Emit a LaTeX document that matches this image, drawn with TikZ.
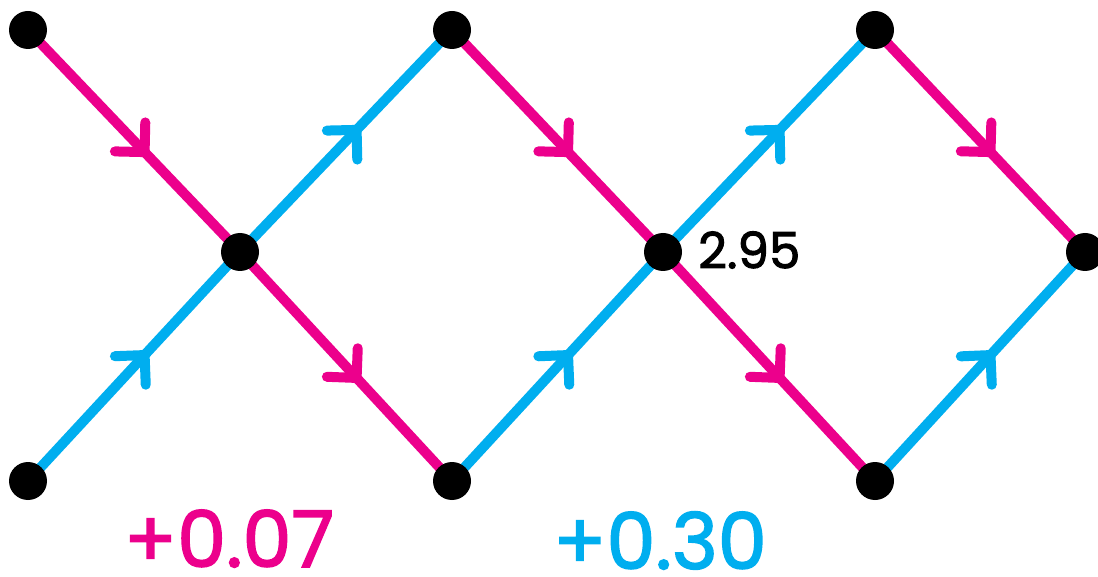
\documentclass[tikz,border=0pt]{standalone}
\usepackage{fontspec}
\setmainfont{Poppins}
\newfontfamily\heavyf{Poppins}[FakeBold=2]
\usetikzlibrary{decorations.markings}
\definecolor{mag}{RGB}{236,0,140}
\definecolor{cya}{RGB}{0,174,239}
\tikzset{
  dot/.style={circle,fill=black,inner sep=0pt,minimum size=38pt},
  edge/.style={line width=10pt,
    postaction={decorate,decoration={markings,mark=at position 0.55 with {
      \draw[line width=10pt,line cap=round,color=#1] (-21pt,21pt) -- (0,0) -- (-21pt,-21pt);}}},
    draw=#1},
  big/.style={font=\heavyf\fontsize{78}{86}\selectfont,inner sep=0pt,anchor=base},
}
\begin{document}
\begin{tikzpicture}[x=1pt,y=-1pt]
\useasboundingbox (0,0) rectangle (1098,577);
\coordinate (A) at (28,30);
\coordinate (B) at (240,252);
\coordinate (C) at (28,481);
\coordinate (D) at (452,30);
\coordinate (E) at (452,481);
\coordinate (F) at (663,252);
\coordinate (G) at (875,30);
\coordinate (H) at (875,481);
\coordinate (I) at (1085,252);
\draw[edge=mag] (A) -- (B);
\draw[edge=mag] (B) -- (E);
\draw[edge=mag] (D) -- (F);
\draw[edge=mag] (F) -- (H);
\draw[edge=mag] (G) -- (I);
\draw[edge=cya] (C) -- (B);
\draw[edge=cya] (B) -- (D);
\draw[edge=cya] (E) -- (F);
\draw[edge=cya] (F) -- (G);
\draw[edge=cya] (H) -- (I);
\foreach \p in {A,B,C,D,E,F,G,H,I} \node[dot] (n\p) at (\p) {};
\node[anchor=west,font=\heavyf\fontsize{50}{55}\selectfont,inner sep=0pt] (lab) at (698,250) {2.95};
\node[big,text=mag] (p1) at (229,567) {+0.07};
\node[big,text=cya] (p2) at (660,569) {+0.30};
\end{tikzpicture}
\end{document}
